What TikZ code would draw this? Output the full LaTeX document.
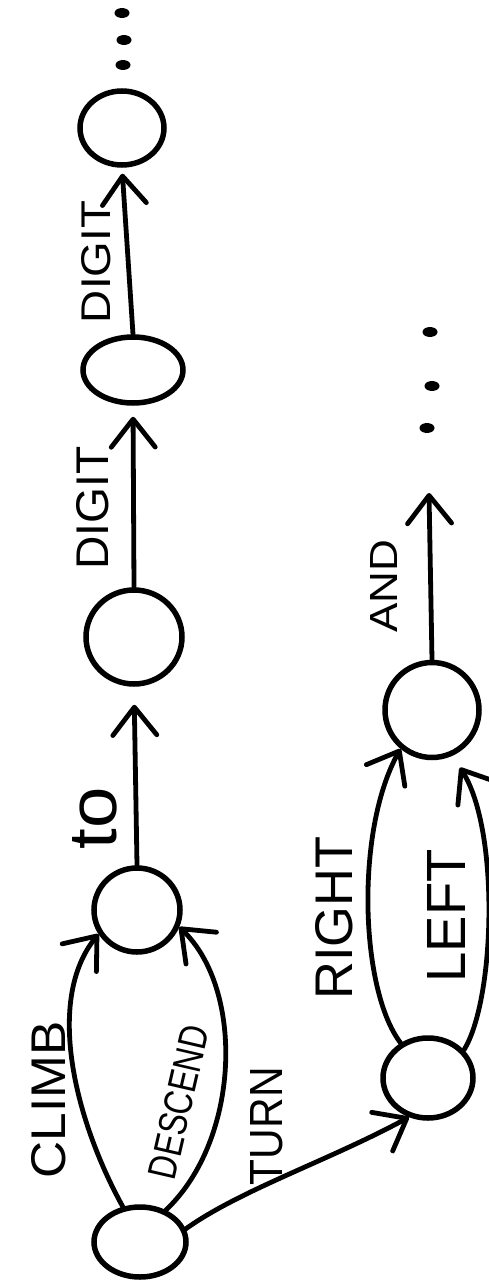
\documentclass[tikz,border=0pt]{standalone}
\usepackage{fontspec}
\setmainfont{Liberation Sans}
\usetikzlibrary{arrows.meta,shapes.geometric}
% a word stretched to a given length and letter height
\newcommand{\fitword}[3]{\resizebox{#1pt}{#2pt}{#3}}
\begin{document}
\begin{tikzpicture}[x=1pt,y=-1pt,
  state/.style={ellipse, draw, line width=5.5pt, inner sep=0pt},
  edge/.style={line width=4.8pt, line cap=round, line join=round,
    -{Straight Barb[length=28pt,width=44pt,round]}},
  word/.style={inner sep=0pt, rotate=90},
  dot/.style={ellipse, fill, inner sep=0pt, minimum width=15pt, minimum height=10pt}]
\useasboundingbox (0,0) rectangle (489,1281);

% states
\node[state, minimum width=92pt, minimum height=70pt] (A) at (140,1242) {};
\node[state, minimum width=86pt, minimum height=84pt] (B) at (137,910) {};
\node[state, minimum width=96pt, minimum height=94pt] (C) at (134,637) {};
\node[state, minimum width=100pt, minimum height=66pt] (D) at (133,370) {};
\node[state, minimum width=84pt, minimum height=74pt] (E) at (122,128) {};
\node[state, minimum width=90pt, minimum height=80pt] (F) at (428,1078) {};
\node[state, minimum width=94pt, minimum height=95pt] (G) at (432,710) {};
\coordinate (andend) at (429,493);

% transitions
\draw[edge] (A.116) .. controls (75,1120) and (45,1000) .. (B.212);
\draw[edge] (A.51) .. controls (240,1140) and (245,990) .. (B.338);
\draw[edge] (A.16) .. controls (240,1190) and (330,1160) .. (F.244);
\draw[edge, shorten >=18pt] (B.north) -- (C.south);
\draw[edge, shorten >=11pt] (C.north) -- (D.south);
\draw[edge, shorten >=6pt] (D.north) -- (E.south);
\draw[edge] (F.128) .. controls (360,990) and (355,830) .. (G.231);
\draw[edge, shorten >=14pt] (F.38) .. controls (495,1000) and (500,830) .. (G.294);
\draw[edge] (G.north) -- (andend);

% labels
\node[word] (lclimb) at (49,1100) {\fitword{157}{34}{CLIMB}};
\node[inner sep=0pt, rotate=77] (ldescend) at (179,1102) {\fitword{156}{28}{DESCEND}};
\node[word] (lturn) at (267,1126) {\fitword{118}{32}{TURN}};
\node[word] (lto) at (95,818) {\fitword{62}{44}{to}};
\node[word] (ldigita) at (93,508) {\fitword{123}{32}{DIGIT}};
\node[word] (ldigitb) at (96,262) {\fitword{122}{29}{DIGIT}};
\node[word] (lright) at (334,918) {\fitword{163}{37}{RIGHT}};
\node[word] (lleft) at (446,916) {\fitword{133}{38}{LEFT}};
\node[word] (land) at (384,586) {\fitword{93}{27}{AND}};

% continuation dots
\node[dot] (e1) at (122,13) {};
\node[dot] (e2) at (124,40) {};
\node[dot] (e3) at (123,65) {};
\node[dot] (a1) at (430,332) {};
\node[dot] (a2) at (432,386) {};
\node[dot] (a3) at (427,428) {};
\end{tikzpicture}
\end{document}
